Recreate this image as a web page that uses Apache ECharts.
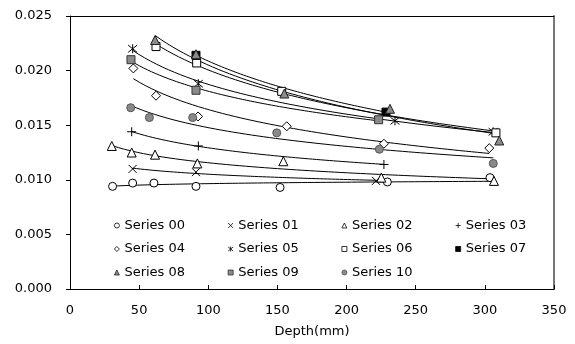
<!DOCTYPE html>
<html>
<head>
<meta charset="utf-8">
<script src="https://cdn.jsdelivr.net/npm/echarts@6/dist/echarts.min.js"></script>
<style>
  html, body { margin: 0; padding: 0; background: #fff; }
  #chart { width: 575px; height: 344px; }
</style>
</head>
<body>
<div id="chart"></div>
<script>
// Measured values per series: depth (mm) and reading
const seriesNames = ['Series 00', 'Series 01', 'Series 02', 'Series 03', 'Series 04', 'Series 05',
                     'Series 06', 'Series 07', 'Series 08', 'Series 09', 'Series 10'];

const depth00 = [30.8, 45.3, 60.7, 91.1, 151.9, 229.5, 303.7];
const value00 = [0.0094, 0.0097, 0.0097, 0.0094, 0.0093, 0.0098, 0.0102];

const depth01 = [45.3, 91.1, 221.3];
const value01 = [0.0110, 0.0107, 0.0099];

const depth02 = [30.2, 44.6, 61.5, 92.1, 154.3, 225.1, 306.6];
const value02 = [0.0131, 0.0125, 0.0123, 0.0115, 0.0117, 0.0102, 0.0099];

const depth03 = [44.6, 92.8, 227.0];
const value03 = [0.0144, 0.0131, 0.0114];

const depth04 = [45.8, 62.2, 92.6, 156.7, 227.0, 303.2];
const value04 = [0.0202, 0.0177, 0.0158, 0.0149, 0.0133, 0.0129];

const depth05 = [45.3, 92.8, 235.0, 306.0];
const value05 = [0.0220, 0.0188, 0.0154, 0.0144];

const depth06 = [62.2, 91.6, 153.1, 308.0];
const value06 = [0.0222, 0.0207, 0.0181, 0.0143];

const depth07 = [91.1, 228.5];
const value07 = [0.0214, 0.0162];

const depth08 = [61.5, 91.1, 155.0, 231.4, 310.4];
const value08 = [0.0228, 0.0215, 0.0179, 0.0165, 0.0136];

const depth09 = [44.1, 91.1, 223.2];
const value09 = [0.0210, 0.0182, 0.0155];

const depth10 = [43.9, 57.4, 88.7, 149.5, 223.7, 306.1];
const value10 = [0.0166, 0.0157, 0.0157, 0.0143, 0.0128, 0.0115];

const depths = [depth00, depth01, depth02, depth03, depth04, depth05, depth06, depth07, depth08, depth09, depth10];
const values = [value00, value01, value02, value03, value04, value05, value06, value07, value08, value09, value10];

const xTicks = { min: 0, max: 350, step: 50 };
const yTicks = { min: 0, max: 0.025, step: 0.005 };

// Marker appearance for each series
const FONT = 'DejaVu Sans';
const crossPath = 'path://M0,0L10,10M10,0L0,10';
const plusPath = 'path://M5,0L5,10M0,5L10,5';
const starPath = 'path://M0,1L10,9M10,1L0,9M5,0L5,10';
const markers = [
  { symbol: 'circle',   size: 8,  fill: '#fff', stroke: '#000' },
  { symbol: crossPath,  size: 8,  fill: 'rgba(0,0,0,0)', stroke: '#000' },
  { symbol: 'triangle', size: 9,  fill: '#fff', stroke: '#000' },
  { symbol: plusPath,   size: 9,  fill: 'rgba(0,0,0,0)', stroke: '#000' },
  { symbol: 'diamond',  size: 9,  fill: '#fff', stroke: '#000' },
  { symbol: starPath,   size: 9,  fill: 'rgba(0,0,0,0)', stroke: '#000' },
  { symbol: 'rect',     size: 8,  fill: '#fff', stroke: '#000' },
  { symbol: 'rect',     size: 8,  fill: '#000', stroke: '#000' },
  { symbol: 'triangle', size: 9,  fill: '#8a8a8a', stroke: '#222' },
  { symbol: 'rect',     size: 8,  fill: '#8a8a8a', stroke: '#333' },
  { symbol: 'circle',   size: 8,  fill: '#8a8a8a', stroke: '#555' }
];

// Logarithmic trend line (least squares on ln x) over the measured depth range
function logTrend(xs, ys) {
  const n = xs.length;
  const lx = xs.map(Math.log);
  const mx = lx.reduce((a, b) => a + b, 0) / n;
  const my = ys.reduce((a, b) => a + b, 0) / n;
  let sxy = 0, sxx = 0;
  for (let i = 0; i < n; i++) {
    sxy += (lx[i] - mx) * (ys[i] - my);
    sxx += (lx[i] - mx) * (lx[i] - mx);
  }
  const slope = sxx > 0 ? sxy / sxx : 0;
  const icpt = my - slope * mx;
  const x0 = Math.min(...xs), x1 = Math.max(...xs);
  const pts = [];
  const steps = 60;
  for (let k = 0; k <= steps; k++) {
    const x = x0 + (x1 - x0) * k / steps;
    pts.push([x, icpt + slope * Math.log(x)]);
  }
  return pts;
}

const series = [];
// trend lines underneath
seriesNames.forEach((name, i) => {
  series.push({
    name: name + ' trend',
    type: 'line',
    data: logTrend(depths[i], values[i]),
    showSymbol: false,
    symbol: 'none',
    silent: true,
    lineStyle: { color: '#000', width: 1 },
    z: 2
  });
});
// markers on top
seriesNames.forEach((name, i) => {
  const m = markers[i];
  series.push({
    name: name,
    type: 'scatter',
    data: depths[i].map((d, k) => [d, values[i][k]]),
    symbol: m.symbol,
    symbolSize: m.size,
    itemStyle: { color: m.fill, borderColor: m.stroke, borderWidth: 1, opacity: 1 },
    z: 3 + i * 0.01
  });
});

function legendRow(names, top) {
  return {
    data: names,
    left: 114,
    top: top,
    orient: 'horizontal',
    itemWidth: 5,
    itemHeight: 5,
    itemGap: 42.7,
    padding: 0,
    selectedMode: false,
    itemStyle: { borderWidth: 0.8 },
    textStyle: { fontFamily: FONT, fontSize: 13, color: '#000' }
  };
}

const chart = echarts.init(document.getElementById('chart'), null, { renderer: 'canvas' });
chart.setOption({
  animation: false,
  backgroundColor: '#fff',
  grid: { left: 70, right: 21, top: 16, bottom: 55, containLabel: false },
  legend: [
    legendRow(seriesNames.slice(0, 4), 219),
    legendRow(seriesNames.slice(4, 8), 242.5),
    legendRow(seriesNames.slice(8, 11), 266)
  ],
  xAxis: [
    {
      type: 'value', min: xTicks.min, max: xTicks.max, interval: xTicks.step,
      name: 'Depth(mm)', nameLocation: 'middle', nameGap: 36,
      nameTextStyle: { fontFamily: FONT, fontSize: 13, color: '#000' },
      axisLine: { show: true, onZero: false, lineStyle: { color: '#000', width: 1 } },
      axisTick: { show: true, inside: true, length: 4, lineStyle: { color: '#000' } },
      axisLabel: { fontFamily: FONT, fontSize: 13, color: '#000', margin: 15 },
      splitLine: { show: false }
    },
    {
      type: 'value', position: 'top', min: xTicks.min, max: xTicks.max,
      axisLine: { show: true, onZero: false, lineStyle: { color: '#000', width: 1 } },
      axisTick: { show: false }, axisLabel: { show: false }, splitLine: { show: false }
    }
  ],
  yAxis: [
    {
      type: 'value', min: yTicks.min, max: yTicks.max, interval: yTicks.step,
      axisLine: { show: true, onZero: false, lineStyle: { color: '#000', width: 1 } },
      axisTick: { show: true, inside: false, length: 4, lineStyle: { color: '#000' } },
      axisLabel: {
        fontFamily: FONT, fontSize: 13, color: '#000', margin: 18,
        formatter: v => v.toFixed(3)
      },
      splitLine: { show: false }
    },
    {
      type: 'value', position: 'right', min: yTicks.min, max: yTicks.max,
      axisLine: { show: true, onZero: false, lineStyle: { color: '#777', width: 2 } },
      axisTick: { show: false }, axisLabel: { show: false }, splitLine: { show: false }
    }
  ],
  series: series
});
</script>
</body>
</html>
